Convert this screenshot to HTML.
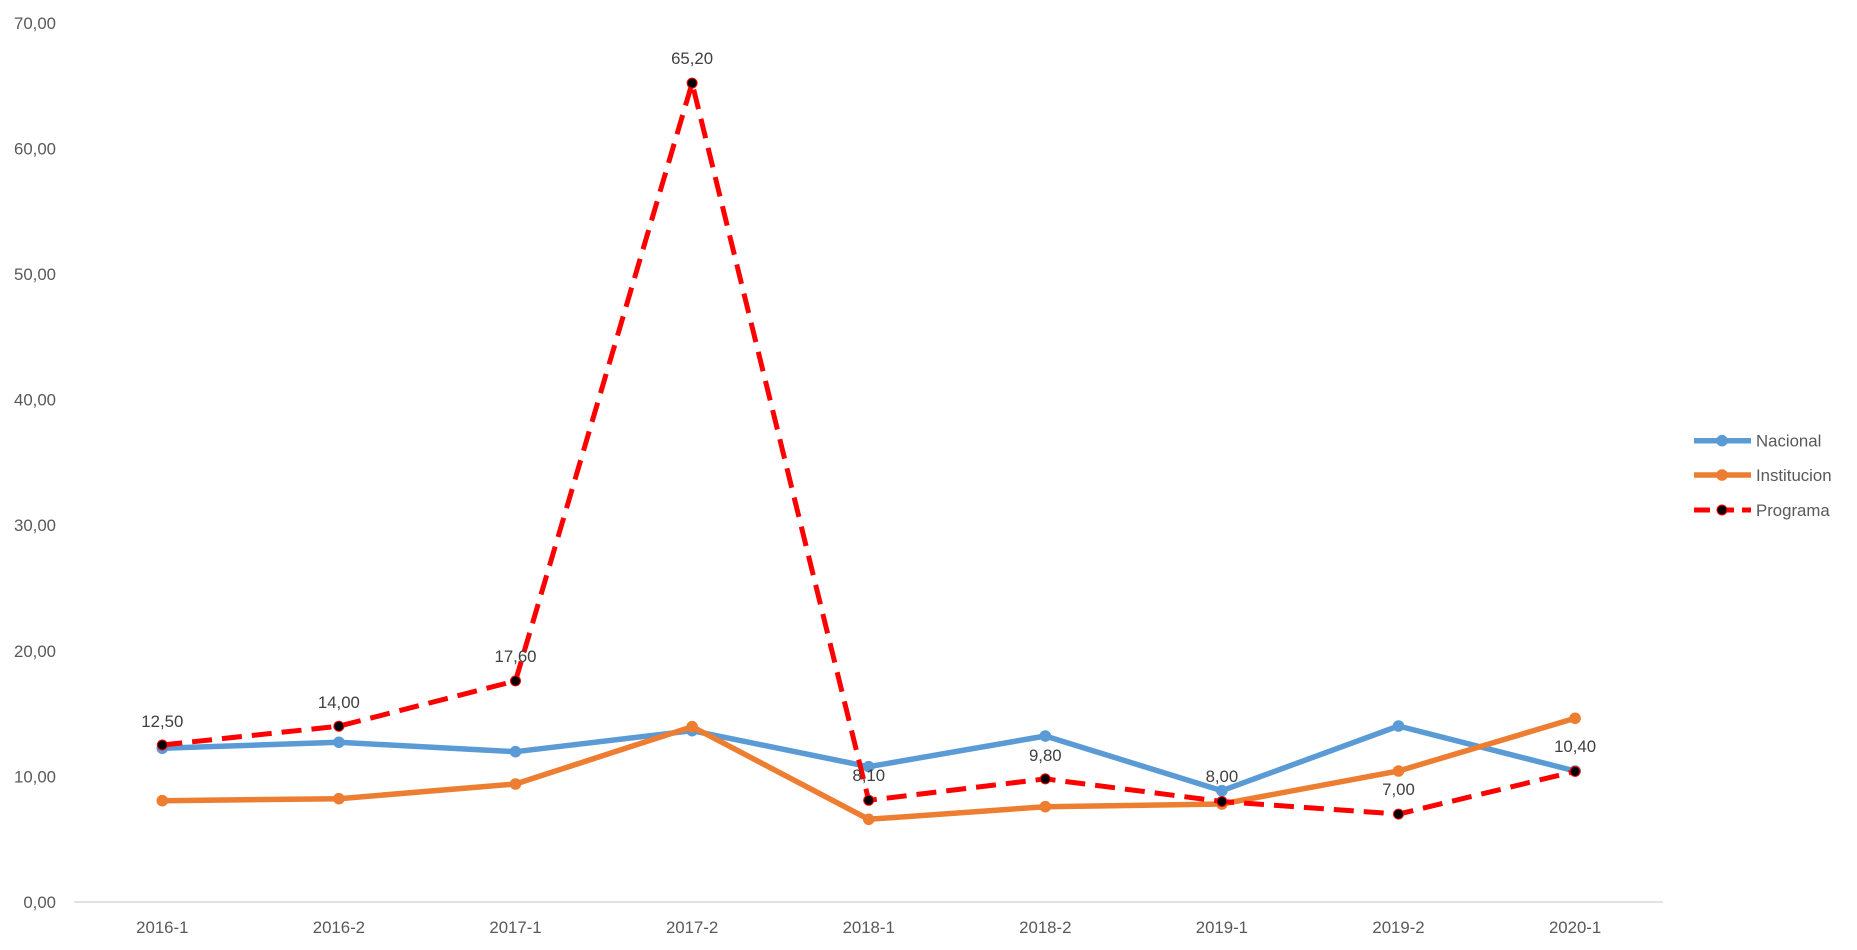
<!DOCTYPE html>
<html><head><meta charset="utf-8"><style>
html,body{margin:0;padding:0;background:#fff;}
svg{display:block;}
text{font-family:"Liberation Sans",sans-serif;}
</style></head><body>
<svg width="1857" height="950" viewBox="0 0 1857 950" xmlns="http://www.w3.org/2000/svg">
<rect width="1857" height="950" fill="#fff"/>
<!-- y axis labels -->
<g fill="#595959" font-size="16.8" text-anchor="end">
<text x="56" y="908">0,00</text>
<text x="56" y="782.4">10,00</text>
<text x="56" y="656.8">20,00</text>
<text x="56" y="531.2">30,00</text>
<text x="56" y="405.6">40,00</text>
<text x="56" y="280">50,00</text>
<text x="56" y="154.4">60,00</text>
<text x="56" y="28.8">70,00</text>
</g>
<!-- x axis -->
<line x1="74" y1="902" x2="1663" y2="902" stroke="#D9D9D9" stroke-width="1.5"/>
<g fill="#595959" font-size="16.8" text-anchor="middle">
<text x="162.3" y="933">2016-1</text>
<text x="338.9" y="933">2016-2</text>
<text x="515.5" y="933">2017-1</text>
<text x="692.1" y="933">2017-2</text>
<text x="868.7" y="933">2018-1</text>
<text x="1045.3" y="933">2018-2</text>
<text x="1221.9" y="933">2019-1</text>
<text x="1398.5" y="933">2019-2</text>
<text x="1575.1" y="933">2020-1</text>
</g>
<!-- Nacional -->
<polyline fill="none" stroke="#5B9BD5" stroke-width="5.5" stroke-linejoin="round" points="162.3,748.3 338.9,742.3 515.5,751.7 692.1,730.7 868.7,766.7 1045.3,736 1221.9,790.7 1398.5,726 1575.1,771"/>
<g fill="#5B9BD5">
<circle cx="162.3" cy="748.3" r="5.8"/><circle cx="338.9" cy="742.3" r="5.8"/><circle cx="515.5" cy="751.7" r="5.8"/><circle cx="692.1" cy="730.7" r="5.8"/><circle cx="868.7" cy="766.7" r="5.8"/><circle cx="1045.3" cy="736" r="5.8"/><circle cx="1221.9" cy="790.7" r="5.8"/><circle cx="1398.5" cy="726" r="5.8"/><circle cx="1575.1" cy="771" r="5.8"/>
</g>
<!-- Institucion -->
<polyline fill="none" stroke="#ED7D31" stroke-width="5.5" stroke-linejoin="round" points="162.3,800.7 338.9,798.7 515.5,784 692.1,726.7 868.7,819.3 1045.3,806.7 1221.9,804 1398.5,771 1575.1,718.3"/>
<g fill="#ED7D31">
<circle cx="162.3" cy="800.7" r="5.8"/><circle cx="338.9" cy="798.7" r="5.8"/><circle cx="515.5" cy="784" r="5.8"/><circle cx="692.1" cy="726.7" r="5.8"/><circle cx="868.7" cy="819.3" r="5.8"/><circle cx="1045.3" cy="806.7" r="5.8"/><circle cx="1221.9" cy="804" r="5.8"/><circle cx="1398.5" cy="771" r="5.8"/><circle cx="1575.1" cy="718.3" r="5.8"/>
</g>
<!-- Programa -->
<polyline fill="none" stroke="#FF0000" stroke-width="5" stroke-dasharray="20,10" stroke-linejoin="round" points="162.3,745 338.9,726.2 515.5,680.9 692.1,83.1 868.7,800.3 1045.3,778.9 1221.9,801.5 1398.5,814.1 1575.1,771.4"/>
<g fill="#000" stroke="#FF0000" stroke-width="1">
<circle cx="162.3" cy="745" r="5"/><circle cx="338.9" cy="726.2" r="5"/><circle cx="515.5" cy="680.9" r="5"/><circle cx="692.1" cy="83.1" r="5"/><circle cx="868.7" cy="800.3" r="5"/><circle cx="1045.3" cy="778.9" r="5"/><circle cx="1221.9" cy="801.5" r="5"/><circle cx="1398.5" cy="814.1" r="5"/><circle cx="1575.1" cy="771.4" r="5"/>
</g>
<!-- data labels -->
<g fill="#404040" font-size="16.8" text-anchor="middle">
<text x="162.3" y="727">12,50</text>
<text x="338.9" y="708">14,00</text>
<text x="515.5" y="662">17,60</text>
<text x="692.1" y="64">65,20</text>
<text x="868.7" y="781">8,10</text>
<text x="1045.3" y="761">9,80</text>
<text x="1221.9" y="782">8,00</text>
<text x="1398.5" y="795">7,00</text>
<text x="1575.1" y="752">10,40</text>
</g>
<!-- legend -->
<line x1="1694" y1="440.7" x2="1751" y2="440.7" stroke="#5B9BD5" stroke-width="5.5"/>
<circle cx="1722" cy="440.7" r="5.8" fill="#5B9BD5"/>
<line x1="1694" y1="475" x2="1751" y2="475" stroke="#ED7D31" stroke-width="5.5"/>
<circle cx="1722" cy="475" r="5.8" fill="#ED7D31"/>
<line x1="1694" y1="510" x2="1751" y2="510" stroke="#FF0000" stroke-width="5" stroke-dasharray="16,8"/>
<circle cx="1722" cy="510" r="5" fill="#000" stroke="#FF0000" stroke-width="1"/>
<g fill="#595959" font-size="16.8">
<text x="1756" y="446.7">Nacional</text>
<text x="1756" y="481">Institucion</text>
<text x="1756" y="516">Programa</text>
</g>
</svg>
</body></html>
